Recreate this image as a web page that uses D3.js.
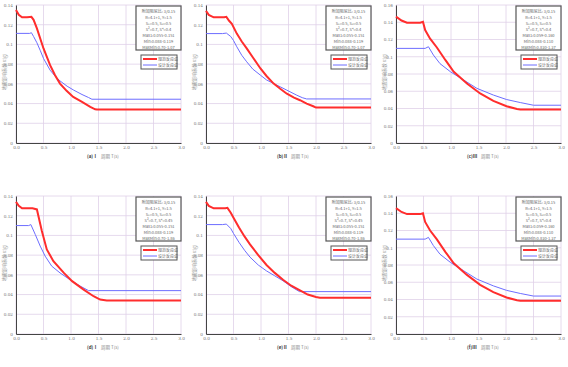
<!DOCTYPE html>
<html>
<head>
<meta charset="utf-8">
<script src="https://cdn.jsdelivr.net/npm/d3@7"></script>
<style>
  body { margin: 0; background: #fff; }
  svg { display: block; font-family: "Noto Sans CJK SC", "DejaVu Sans", sans-serif; }
</style>
</head>
<body>
<svg id="chart" width="568" height="367"></svg>
<script>
// period axis ticks
const xTicks = [0, 0.5, 1.0, 1.5, 2.0, 2.5, 3.0];
const yTicks14 = [0, 0.02, 0.04, 0.06, 0.08, 0.1, 0.12, 0.14];
const yTicks16 = [0, 0.02, 0.04, 0.06, 0.08, 0.1, 0.12, 0.14, 0.16];

const panelNames = ["(a)Ⅰ", "(b)Ⅱ", "(c)Ⅲ", "(d)Ⅰ", "(e)Ⅱ", "(f)Ⅲ"];
const legendNames = ["规范反应谱", "设计反应谱"];

// (a)
const redT_a = [0, 0.05, 0.11, 0.2, 0.25, 0.28, 0.32, 0.38, 0.5, 0.62, 0.71, 0.8, 0.92, 1.04, 1.2, 1.35, 1.44, 1.47, 3.0];
const red_a  = [0.135, 0.130, 0.1275, 0.1275, 0.1278, 0.128, 0.125, 0.1163, 0.0959, 0.079, 0.0688, 0.0603, 0.0529, 0.0468, 0.0417, 0.0366, 0.0342, 0.0339, 0.0339];
const blueT_a = [0, 0.25, 0.28, 0.32, 0.38, 0.44, 0.5, 0.62, 0.71, 0.8, 0.93, 1.05, 1.2, 1.32, 1.38, 3.0];
const blue_a  = [0.1112, 0.1112, 0.1119, 0.108, 0.1017, 0.094, 0.0858, 0.0739, 0.0678, 0.063, 0.0576, 0.0536, 0.0492, 0.0461, 0.0444, 0.0444];

// (b)
const redT_b = [0, 0.05, 0.14, 0.33, 0.37, 0.42, 0.47, 0.56, 0.65, 0.74, 0.85, 0.99, 1.1, 1.23, 1.35, 1.47, 1.6, 1.71, 1.83, 1.95, 2.0, 3.0];
const red_b  = [0.134, 0.130, 0.1275, 0.1275, 0.128, 0.124, 0.121, 0.111, 0.103, 0.096, 0.087, 0.0756, 0.068, 0.0603, 0.055, 0.050, 0.046, 0.0434, 0.040, 0.0373, 0.0359, 0.0359];
const blueT_b = [0, 0.3, 0.37, 0.45, 0.5, 0.56, 0.65, 0.74, 0.85, 0.99, 1.1, 1.23, 1.35, 1.47, 1.65, 1.75, 1.83, 3.0];
const blue_b  = [0.111, 0.111, 0.1115, 0.108, 0.104, 0.0976, 0.089, 0.0824, 0.075, 0.0688, 0.064, 0.0603, 0.057, 0.0536, 0.0485, 0.046, 0.0447, 0.0447];

// (c)
const redT_c = [0, 0.1, 0.2, 0.44, 0.49, 0.53, 0.62, 0.74, 0.9, 1.05, 1.29, 1.53, 1.77, 2.01, 2.2, 2.26, 3.0];
const red_c  = [0.1465, 0.142, 0.1395, 0.1395, 0.1405, 0.131, 0.121, 0.111, 0.096, 0.0826, 0.069, 0.0574, 0.0488, 0.0426, 0.0395, 0.0388, 0.0388];
const blueT_c = [0, 0.53, 0.59, 0.68, 0.8, 0.99, 1.23, 1.47, 1.77, 2.01, 2.26, 2.5, 3.0];
const blue_c  = [0.1097, 0.1097, 0.1116, 0.102, 0.092, 0.0826, 0.073, 0.0634, 0.0556, 0.0504, 0.0469, 0.0438, 0.0438];

// (d)
const redT_d = [0, 0.05, 0.11, 0.3, 0.38, 0.47, 0.56, 0.68, 0.87, 1.02, 1.23, 1.41, 1.53, 1.65, 3.0];
const red_d  = [0.134, 0.130, 0.1275, 0.1275, 0.1264, 0.1044, 0.0858, 0.0739, 0.062, 0.0536, 0.045, 0.0383, 0.0349, 0.0339, 0.0339];
const blueT_d = [0, 0.23, 0.27, 0.35, 0.44, 0.53, 0.65, 0.8, 1.02, 1.17, 1.32, 3.0];
const blue_d  = [0.110, 0.110, 0.111, 0.101, 0.0892, 0.079, 0.0688, 0.062, 0.0536, 0.0485, 0.044, 0.044];

// (e)
const redT_e = [0, 0.05, 0.14, 0.35, 0.39, 0.45, 0.5, 0.6, 0.7, 0.8, 0.95, 1.1, 1.25, 1.4, 1.55, 1.7, 1.85, 2.0, 2.07, 3.0];
const red_e  = [0.134, 0.130, 0.1275, 0.1275, 0.128, 0.123, 0.118, 0.108, 0.099, 0.091, 0.080, 0.070, 0.062, 0.055, 0.049, 0.0445, 0.040, 0.0375, 0.0367, 0.0367];
const blueT_e = [0, 0.3, 0.37, 0.45, 0.5, 0.6, 0.7, 0.8, 0.95, 1.1, 1.25, 1.4, 1.55, 1.7, 3.0];
const blue_e  = [0.111, 0.111, 0.1115, 0.107, 0.102, 0.093, 0.085, 0.078, 0.070, 0.064, 0.059, 0.054, 0.048, 0.043, 0.043];

// (f)
const redT_f = [0, 0.1, 0.2, 0.44, 0.49, 0.53, 0.62, 0.74, 0.9, 1.05, 1.29, 1.53, 1.77, 2.01, 2.2, 2.26, 3.0];
const red_f  = [0.146, 0.1415, 0.139, 0.139, 0.140, 0.130, 0.120, 0.110, 0.095, 0.082, 0.0685, 0.057, 0.0485, 0.0423, 0.0392, 0.0385, 0.0385];
const blueT_f = [0, 0.53, 0.59, 0.68, 0.8, 0.99, 1.23, 1.47, 1.77, 2.01, 2.26, 2.5, 3.0];
const blue_f  = [0.110, 0.110, 0.112, 0.1025, 0.0925, 0.083, 0.0733, 0.0637, 0.0558, 0.0506, 0.047, 0.044, 0.044];

// text box contents
const note_a = ["附加阻尼比: 3/0.15", "R=4.1+1, γ=1.5", "S₁=0.5, S₂=0.5", "S³=0.7, S⁴=0.4", "Max1:0.055-0.151", "Min:0.088-0.119", "MaxMin:0.70-1.07"];
const note_c = ["附加阻尼比: 3/0.15", "R=4.1+1, γ=1.5", "S₁=0.5, S₂=0.5", "S³=0.7, S⁴=0.4", "Max1:0.059-0.160", "Min:0.088-0.110", "MaxMin:0.830-1.37"];
const note_d = ["附加阻尼比: 3/0.15", "R=4.1+1, γ=1.5", "S₁=0.5, S₂=0.5", "S³=0.7, S⁴=0.45", "Max1:0.055-0.151", "Min:0.088-0.119", "MaxMin:0.70-1.86"];

const panels = [
  {name: panelNames[0], red: [redT_a, red_a], blue: [blueT_a, blue_a], yTicks: yTicks14, note: note_a},
  {name: panelNames[1], red: [redT_b, red_b], blue: [blueT_b, blue_b], yTicks: yTicks14, note: note_a},
  {name: panelNames[2], red: [redT_c, red_c], blue: [blueT_c, blue_c], yTicks: yTicks16, note: note_c},
  {name: panelNames[3], red: [redT_d, red_d], blue: [blueT_d, blue_d], yTicks: yTicks14, note: note_d},
  {name: panelNames[4], red: [redT_e, red_e], blue: [blueT_e, blue_e], yTicks: yTicks14, note: note_d},
  {name: panelNames[5], red: [redT_f, red_f], blue: [blueT_f, blue_f], yTicks: yTicks16, note: note_c}
];

const svg = d3.select("#chart");
const colX = [0, 190, 380];
const rowY = [[5, 143], [196, 334]];

panels.forEach((p, i) => {
  let ox = colX[i % 3];
  let top = rowY[Math.floor(i / 3)][0], bottom = rowY[Math.floor(i / 3)][1];
  let left = ox + 16, right = ox + 181;

  let x = d3.scaleLinear().domain([0, 3]).range([left, right]);
  let y = d3.scaleLinear().domain([0, d3.max(p.yTicks)]).range([bottom, top]);

  let g = svg.append("g");

  // grid
  g.append("g").selectAll("line").data(xTicks).join("line")
    .attr("x1", d => x(d)).attr("x2", d => x(d))
    .attr("y1", top).attr("y2", bottom)
    .attr("stroke", "#e0d0e8").attr("stroke-width", 0.8);
  g.append("g").selectAll("line").data(p.yTicks).join("line")
    .attr("x1", left).attr("x2", right)
    .attr("y1", d => y(d)).attr("y2", d => y(d))
    .attr("stroke", "#e0d0e8").attr("stroke-width", 0.8);

  // axes
  let xAxis = d3.axisBottom(x).tickValues(xTicks).tickSize(0).tickPadding(3)
    .tickFormat(d3.format(".1f"));
  let yAxis = d3.axisLeft(y).tickValues(p.yTicks).tickSize(0).tickPadding(3)
    .tickFormat(d => d == 0 ? "0" : String(+d.toFixed(2)));

  let gx = g.append("g").attr("transform", `translate(0,${bottom})`).call(xAxis);
  let gy = g.append("g").attr("transform", `translate(${left},0)`).call(yAxis);
  [gx, gy].forEach(a => {
    a.select(".domain").attr("stroke", "#444").attr("stroke-width", 1);
    a.selectAll("text").attr("font-size", 4.2).attr("fill", "#777").attr("font-family", "DejaVu Serif, serif");
  });

  // curves
  let line = d3.line().x(d => x(d[0])).y(d => y(d[1]));
  g.append("path").datum(d3.zip(p.blue[0], p.blue[1]))
    .attr("d", line).attr("fill", "none").attr("stroke", "#6d6dff").attr("stroke-width", 1);
  g.append("path").datum(d3.zip(p.red[0], p.red[1]))
    .attr("d", line).attr("fill", "none").attr("stroke", "#ff2d2d").attr("stroke-width", 2);

  // axis titles
  g.append("text").attr("x", ox + 87).attr("y", bottom + 15).attr("font-size", 4.5)
    .attr("font-weight", "bold").attr("fill", "#333").text(p.name);
  g.append("text").attr("x", ox + 101).attr("y", bottom + 15).attr("font-size", 4.5)
    .attr("fill", "#888").text("周期 T(s)");

  g.append("text")
    .attr("transform", `translate(${ox + 6},${(top + bottom) / 2 - 2}) rotate(-90)`)
    .attr("text-anchor", "middle").attr("font-size", 4.5).attr("fill", "#999")
    .text("地震影响系数 α(g)");

  // note box
  let bx = right - 45, by = top + 1;
  g.append("rect").attr("x", bx).attr("y", by).attr("width", 45).attr("height", 44)
    .attr("fill", "#fff").attr("stroke", "#555").attr("stroke-width", 1.2);
  g.append("g").selectAll("text").data(p.note).join("text")
    .attr("x", bx + 22.5).attr("y", (d, k) => by + 7 + k * 6)
    .attr("text-anchor", "middle").attr("font-size", 4).attr("fill", "#666")
    .text(d => d);

  // legend
  let lx = right - 40, ly = top + 50;
  g.append("rect").attr("x", lx).attr("y", ly).attr("width", 36).attr("height", 14)
    .attr("fill", "#fff").attr("stroke", "#555").attr("stroke-width", 1);
  [["#ff2d2d", 2], ["#6d6dff", 1]].forEach((s, k) => {
    g.append("line").attr("x1", lx + 2).attr("x2", lx + 16)
      .attr("y1", ly + 4 + k * 6).attr("y2", ly + 4 + k * 6)
      .attr("stroke", s[0]).attr("stroke-width", s[1]);
    g.append("text").attr("x", lx + 17).attr("y", ly + 5.5 + k * 6)
      .attr("font-size", 4).attr("fill", "#666").text(legendNames[k]);
  });
});
</script>
</body>
</html>
